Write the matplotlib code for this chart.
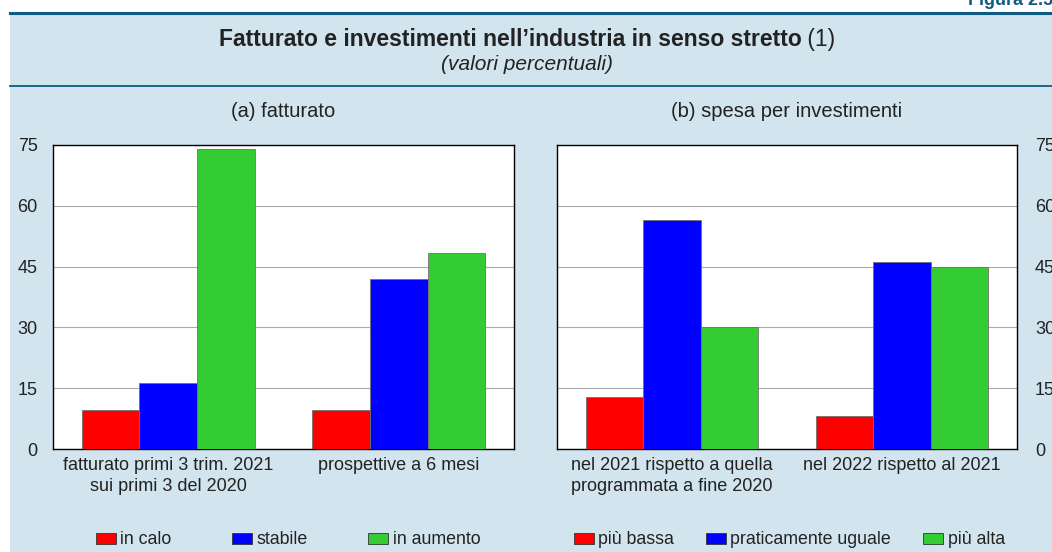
import numpy as np
import matplotlib.pyplot as plt
from matplotlib.patches import Rectangle
from matplotlib.lines import Line2D

plt.rcParams['font.family'] = ['Liberation Sans', 'DejaVu Sans']

# data
groups_a = ['fatturato primi 3 trim. 2021\nsui primi 3 del 2020', 'prospettive a 6 mesi']
series_a = ['in calo', 'stabile', 'in aumento']
values_a = [[9.6, 9.6], [16.3, 42.0], [74.0, 48.4]]

groups_b = ['nel 2021 rispetto a quella\nprogrammata a fine 2020', 'nel 2022 rispetto al 2021']
series_b = ['più bassa', 'praticamente uguale', 'più alta']
values_b = [[12.9, 8.2], [56.4, 46.1], [30.2, 45.0]]

yticks = [0, 15, 30, 45, 60, 75]
colors = ['#ff0000', '#0000ff', '#33cc33']
bg = '#d2e4ee'
navy = '#0f5b84'
txt = '#222222'

W, H = 1052, 552
fig = plt.figure(figsize=(W / 100, H / 100), dpi=100)

# background panel and header lines
fig.patches.append(Rectangle((10 / W, 0), 1, 1 - 13 / H, transform=fig.transFigure,
                             facecolor=bg, edgecolor='none', zorder=-10))
fig.add_artist(Line2D([10 / W, 1], [1 - 12.5 / H] * 2, transform=fig.transFigure,
                      color=navy, lw=2.2))
fig.add_artist(Line2D([10 / W, 1], [1 - 85.5 / H] * 2, transform=fig.transFigure,
                      color=navy, lw=1.3))
fig.text(968 / W, 1 - 5 / H, 'Figura 2.5', color=navy, fontsize=13, fontweight='bold',
         ha='left', va='baseline')

# title: bold part + regular "(1)"
renderer = fig.canvas.get_renderer()
t1 = fig.text(0, 1 - 46 / H, 'Fatturato e investimenti nell\u2019industria in senso stretto',
              fontsize=16.5, fontweight='bold', color=txt, va='baseline')
t2 = fig.text(0, 1 - 46 / H, ' (1)', fontsize=16.5, color=txt, va='baseline')
w1 = t1.get_window_extent(renderer).width
w2 = t2.get_window_extent(renderer).width
x0 = (527 - (w1 + w2) / 2)
t1.set_x(x0 / W)
t2.set_x((x0 + w1) / W)
fig.text(527 / W, 1 - 64 / H, '(valori percentuali)', fontsize=15, style='italic',
         color=txt, ha='center', va='center')

axes = [fig.add_axes([53 / W, 103 / H, 461 / W, 304 / H]),
        fig.add_axes([557 / W, 103 / H, 460 / W, 304 / H])]
titles = ['(a) fatturato', '(b) spesa per investimenti']
data = [(groups_a, series_a, values_a), (groups_b, series_b, values_b)]
colspacing = [3.4, 1.8]
legend_x = [0.51, 0.505]

width = 0.25
for i, (ax, (groups, series, values)) in enumerate(zip(axes, data)):
    x = np.arange(len(groups))
    for j, (name, vals) in enumerate(zip(series, values)):
        ax.bar(x + (j - 1) * width, vals, width, color=colors[j], edgecolor='#707070',
               linewidth=0.6, label=name, zorder=3)
    ax.set_xlim(-0.5, len(groups) - 0.5)
    ax.set_ylim(0, 75)
    ax.set_yticks(yticks)
    ax.set_xticks(x)
    ax.set_xticklabels(groups, fontsize=13, color=txt, linespacing=1.25)
    ax.grid(axis='y', color='#aaaaaa', lw=0.8, zorder=0)
    ax.set_facecolor('white')
    for s in ax.spines.values():
        s.set_color('black')
        s.set_linewidth(1.0)
    ax.set_title(titles[i], fontsize=14.5, color=txt, pad=20)
    if i == 0:
        ax.tick_params(axis='y', length=0, pad=11, labelsize=13, labelcolor=txt)
    else:
        ax.yaxis.tick_right()
        ax.tick_params(axis='y', length=0, pad=13, labelsize=13, labelcolor=txt)
    ax.tick_params(axis='x', length=0, pad=6)
    leg = ax.legend(loc='center', ncol=3, frameon=False, fontsize=12.8,
                    handlelength=1.12, handleheight=0.56, handletextpad=0.25,
                    columnspacing=colspacing[i], labelcolor=txt)
    leg.set_bbox_to_anchor((legend_x[i], -(540 - 449) / 304), transform=ax.transAxes)
    for h in leg.legend_handles:
        h.set_edgecolor('#333333')

fig.savefig('out.png', dpi=100)
